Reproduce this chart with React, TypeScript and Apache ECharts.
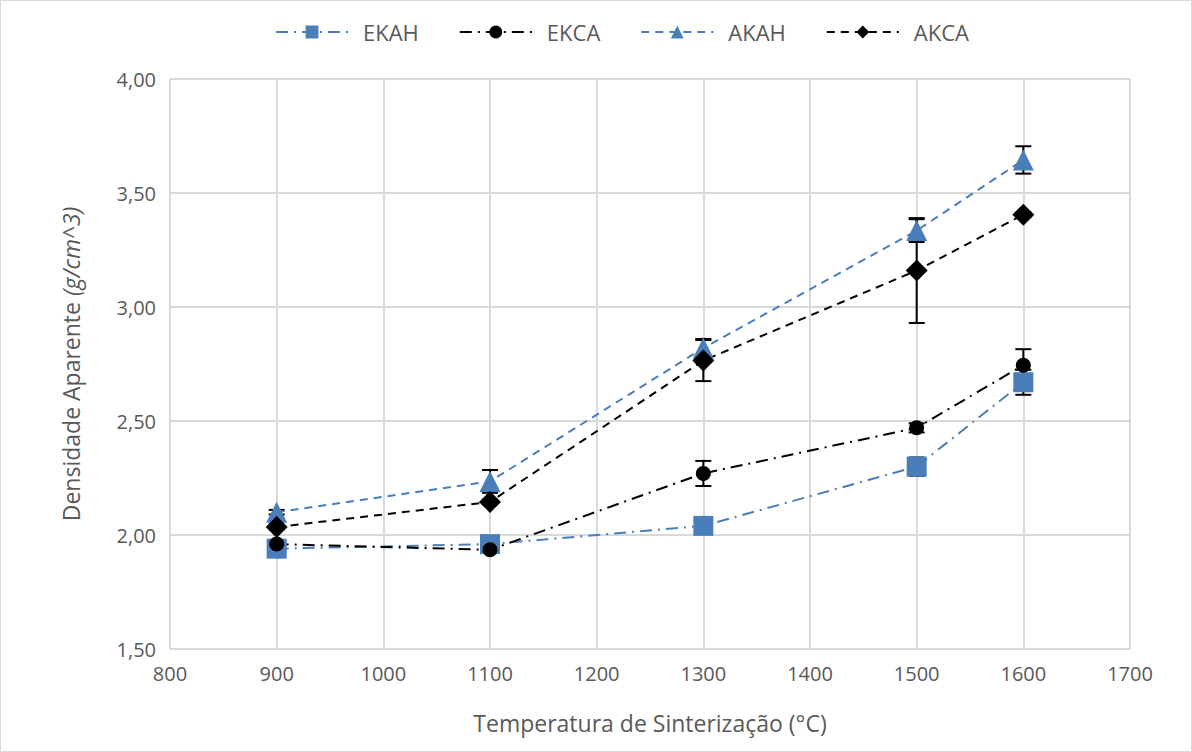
import React, { useEffect, useRef } from "react";
import * as echarts from "echarts";

const temperatures = [900, 1100, 1300, 1500, 1600];
const ekah = [1.94, 1.96, 2.04, 2.3, 2.67];
const ekahErr = [0.01, 0.01, 0.02, 0.04, 0.055];
const ekca = [1.96, 1.935, 2.27, 2.47, 2.745];
const ekcaErr = [0.01, 0.01, 0.055, 0.02, 0.07];
const akah = [2.1, 2.235, 2.82, 3.335, 3.645];
const akahErr = [0.01, 0.05, 0.04, 0.05, 0.06];
const akca = [2.035, 2.145, 2.765, 3.16, 3.405];
const akcaErr = [0.01, 0.01, 0.09, 0.23, 0.01];

const BLUE = "#4a7ebb";
const GRAY = "#595959";
const FONT = "Open Sans";

function errData(vals: number[], errs: number[]) {
  return temperatures.map((t, i) => [t, vals[i] - errs[i], vals[i] + errs[i]]);
}

const errorRender = (params: any, api: any) => {
  const x = api.value(0);
  const lo = api.coord([x, api.value(1)]);
  const hi = api.coord([x, api.value(2)]);
  const w = 8;
  const style = { stroke: "#000", lineWidth: 2 };
  return {
    type: "group",
    children: [
      { type: "line", shape: { x1: lo[0], y1: lo[1], x2: hi[0], y2: hi[1] }, style },
      { type: "line", shape: { x1: lo[0] - w, y1: lo[1], x2: lo[0] + w, y2: lo[1] }, style },
      { type: "line", shape: { x1: hi[0] - w, y1: hi[1], x2: hi[0] + w, y2: hi[1] }, style },
    ],
  };
};

export default function App() {
  const ref = useRef<HTMLDivElement>(null);
  useEffect(() => {
    const chart = echarts.init(ref.current!, null, { renderer: "svg" });
    const lineSeries = (
      name: string,
      vals: number[],
      color: string,
      dash: any,
      symbol: string,
      size: number
    ) => ({
      name,
      type: "line",
      data: temperatures.map((t, i) => [t, vals[i]]),
      symbol,
      symbolSize: size,
      itemStyle: { color },
      lineStyle: { color, width: 2, type: dash },
      z: 3,
    });
    chart.setOption({
      animation: false,
      backgroundColor: "#fff",
      textStyle: { fontFamily: FONT },
      graphic: [
        {
          type: "rect",
          shape: { x: 0.5, y: 0.5, width: 1191, height: 751 },
          style: { fill: "none", stroke: "#d9d9d9", lineWidth: 1 },
          silent: true,
        },
      ],
      legend: {
        top: 16,
        left: 270,
        itemWidth: 72,
        itemHeight: 16,
        itemGap: 40,
        textStyle: { color: GRAY, fontSize: 22, fontFamily: FONT, padding: [0, 0, 0, 10] },
        data: ["EKAH", "EKCA", "AKAH", "AKCA"],
      },
      grid: { left: 170, right: 62, top: 79, bottom: 103, containLabel: false },
      xAxis: {
        type: "value",
        min: 800,
        max: 1700,
        interval: 100,
        name: "Temperatura de Sinterização (°C)",
        nameLocation: "middle",
        nameGap: 62,
        nameTextStyle: { color: GRAY, fontSize: 23, fontFamily: FONT },
        axisLine: { show: false },
        axisTick: { show: false },
        axisLabel: {
          color: GRAY,
          fontSize: 20,
          margin: 14,
          fontFamily: FONT,
          formatter: (v: number) => String(v),
        },
        splitLine: { show: true, lineStyle: { color: "#d9d9d9", width: 2 } },
      },
      yAxis: {
        type: "value",
        min: 1.5,
        max: 4,
        interval: 0.5,
        name: "{n|Densidade Aparente }{i|(g/cm^3)}",
        nameLocation: "middle",
        nameGap: 88,
        nameRotate: 90,
        nameTextStyle: {
          rich: {
            n: { color: GRAY, fontSize: 23, fontFamily: FONT },
            i: { color: GRAY, fontSize: 23, fontFamily: FONT, fontStyle: "italic" },
          },
        },
        axisLine: { show: false },
        axisTick: { show: false },
        axisLabel: {
          color: GRAY,
          fontSize: 20,
          margin: 14,
          fontFamily: FONT,
          formatter: (v: number) => v.toFixed(2).replace(".", ","),
        },
        splitLine: { show: true, lineStyle: { color: "#d9d9d9", width: 2 } },
      },
      series: [
        lineSeries("EKAH", ekah, BLUE, [12, 6, 2, 6], "rect", 20),
        lineSeries("EKCA", ekca, "#000", [12, 6, 2, 6], "circle", 15),
        lineSeries("AKAH", akah, BLUE, [8, 6], "triangle", 21),
        lineSeries("AKCA", akca, "#000", [8, 6], "diamond", 22),
        { type: "custom", renderItem: errorRender, data: errData(ekah, ekahErr), z: 2, encode: { x: 0, y: [1, 2] } },
        { type: "custom", renderItem: errorRender, data: errData(ekca, ekcaErr), z: 2, encode: { x: 0, y: [1, 2] } },
        { type: "custom", renderItem: errorRender, data: errData(akah, akahErr), z: 2, encode: { x: 0, y: [1, 2] } },
        { type: "custom", renderItem: errorRender, data: errData(akca, akcaErr), z: 2, encode: { x: 0, y: [1, 2] } },
      ],
    });
    return () => chart.dispose();
  }, []);
  return (
    <div
      ref={ref}
      style={{ position: "fixed", left: 0, top: 0, width: 1192, height: 752 }}
    />
  );
}
